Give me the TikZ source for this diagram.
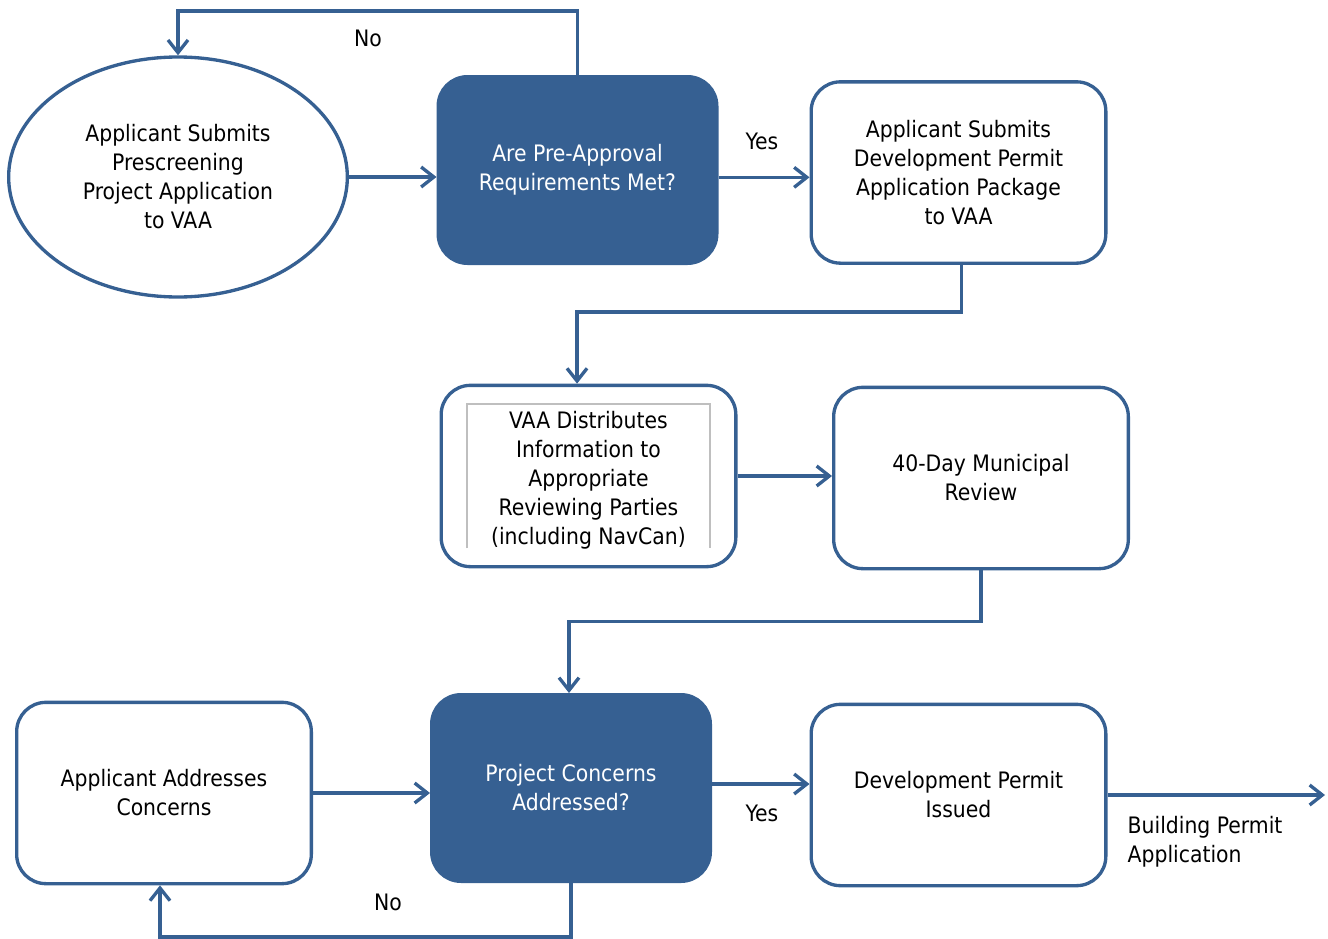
\documentclass[tikz,border=0pt]{standalone}
\usepackage{fontspec}
\setmainfont{DejaVu Sans Condensed}
\usetikzlibrary{arrows.meta,shapes.geometric}

\definecolor{flowblue}{RGB}{54,96,146}
\definecolor{boxgray}{RGB}{191,191,191}

\tikzset{every picture/.style={line width=2.5pt}}
\tikzset{
  stepbox/.style={draw=flowblue,fill=white,rounded corners=22pt,minimum width=221pt,minimum height=136pt,align=center,inner sep=0.75pt,font=\fontsize{17}{21.75}\selectfont},
  askbox/.style={stepbox,fill=flowblue,text=white,minimum width=209pt,minimum height=140pt},
  flowline/.style={draw=flowblue,-{Straight Barb[length=9.5pt,width=15pt]}},
  flowlabel/.style={inner sep=0.75pt,font=\fontsize{17}{21.75}\selectfont}
}

\begin{document}
\begin{tikzpicture}[x=0.75pt,y=0.75pt,yscale=-1,xscale=1]
%set diagram left start at 0, and has height of 937
\path (0,0) rectangle (1328,937);

%Shape: Ellipse [id:ell]
\node [draw=flowblue,ellipse,minimum width=254pt,minimum height=180pt,align=center,inner sep=0.75pt,font=\fontsize{17}{21.75}\selectfont] (ell) at (178,177) {Applicant Submits\\Prescreening\\Project Application\\to VAA};
%Shape: Rounded Rect [id:pre]
\node [askbox] (pre) at (577.5,170) {Are Pre-Approval\\Requirements Met?};
%Shape: Rounded Rect [id:dev]
\node [stepbox] (dev) at (958.5,172.5) {Applicant Submits\\Development Permit\\Application Package\\to VAA};
%Shape: Rounded Rect [id:vaa]
\node [stepbox] (vaa) at (588.5,476) {};
%Shape: Rectangle [id:vaabox]
\draw [boxgray,line width=1.1pt] (467,548) -- (467,404) -- (710,404) -- (710,548);
% Text Node
\node [flowlabel,align=center] (vaatext) at (588.5,480) {VAA Distributes\\Information to\\Appropriate\\Reviewing Parties\\(including NavCan)};
%Shape: Rounded Rect [id:rev]
\node [stepbox] (rev) at (981,478) {40-Day Municipal\\Review};
%Shape: Rounded Rect [id:add]
\node [stepbox] (add) at (164,793) {Applicant Addresses\\Concerns};
%Shape: Rounded Rect [id:chk]
\node [askbox] (chk) at (571,788) {Project Concerns\\Addressed?};
%Shape: Rounded Rect [id:iss]
\node [stepbox] (iss) at (958.5,795) {Development Permit\\Issued};
%Coordinate: free end
\coordinate (bp) at (1325,795);

%Straight Lines [id:no1]
\draw [flowline] (pre.north) -- ++(0,-64) -| (ell.north);
%Straight Lines [id:in1]
\draw [flowline] (ell.east) -- (ell.east -| pre.west);
%Straight Lines [id:yes1]
\draw [flowline] ([yshift=5.5pt]pre.east) -- ([yshift=5.5pt]pre.east -| dev.west);
%Straight Lines [id:dev2vaa]
\draw [flowline] ([xshift=2pt]dev.south) -- ++(0,47) -| ([xshift=-8.6pt]vaa.north);
%Straight Lines [id:vaa2rev]
\draw [flowline] (vaa.east) -- (vaa.east -| rev.west);
%Straight Lines [id:rev2chk]
\draw [flowline] (rev.south) -- ++(0,51) -| ([xshift=-1.5pt]chk.north);
%Straight Lines [id:add2chk]
\draw [flowline] (add.east) -- (add.east -| chk.west);
%Straight Lines [id:yes2]
\draw [flowline] ([yshift=-3pt]chk.east) -- ([yshift=-3pt]chk.east -| iss.west);
%Straight Lines [id:no2]
\draw [flowline] (chk.south) -- ++(0,54) -| ([xshift=-3pt]add.south);
%Straight Lines [id:out]
\draw [flowline] (iss.east) -- (bp);

% Text Node
\node [flowlabel] (nolab1) at (368,38) {No};
% Text Node
\node [flowlabel] (yeslab1) at (762,141) {Yes};
% Text Node
\node [flowlabel] (yeslab2) at (762,813) {Yes};
% Text Node
\node [flowlabel] (nolab2) at (388,902) {No};
% Text Node
\node [flowlabel,anchor=north west,align=left] (bplab) at (1125,814) {Building Permit\\Application};

\end{tikzpicture}
\end{document}
